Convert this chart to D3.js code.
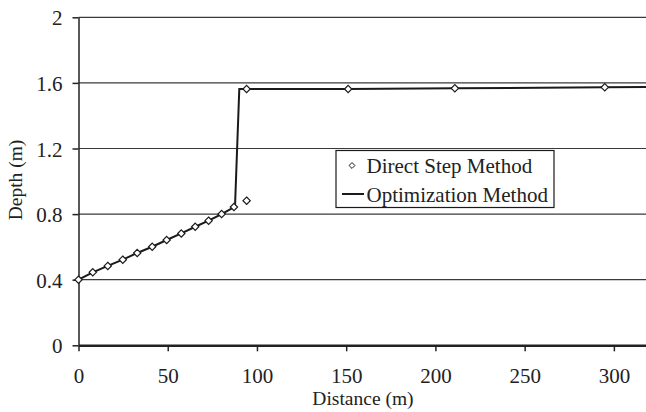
<!DOCTYPE html>
<html>
<head>
<meta charset="utf-8">
<script src="https://cdn.jsdelivr.net/npm/d3@7"></script>
<style>
  body { margin: 0; background: #fff; }
  svg text { font-family: "Liberation Serif", "Times New Roman", serif; fill: #222; }
</style>
</head>
<body>
<div id="chart"></div>
<script>
// direct step method (markers)
var stepX = [0, 8, 16.4, 24.8, 32.9, 41.3, 49.4, 57.6, 65.4, 72.9, 80.2, 87.1, 94.2, 94.2, 151.1, 210.9, 294.9];
var stepY = [0.40, 0.445, 0.484, 0.522, 0.563, 0.601, 0.642, 0.682, 0.723, 0.760, 0.800, 0.843, 0.882, 1.563, 1.563, 1.567, 1.573];

// optimization method (line)
var optX = [0, 8, 16.4, 24.8, 32.9, 41.3, 49.4, 57.6, 65.4, 72.9, 80.2, 87.7, 90.1, 151.1, 210.9, 294.9, 318];
var optY = [0.40, 0.445, 0.484, 0.522, 0.563, 0.601, 0.642, 0.682, 0.723, 0.760, 0.800, 0.845, 1.563, 1.563, 1.567, 1.573, 1.575];

var xTicks = [0, 50, 100, 150, 200, 250, 300];
var yTicks = [0, 0.4, 0.8, 1.2, 1.6, 2];
var legendLabels = ["Direct Step Method", "Optimization Method"];

var width = 646,
    height = 412;

var svg = d3.select("#chart")
    .append("svg")
    .attr("width", width)
    .attr("height", height);

var x = d3.scaleLinear().domain([0, 318]).range([78.5, 646]);
var y = d3.scaleLinear().domain([0, 2]).range([345.3, 17.3]);

// gridlines
svg.append("g")
    .selectAll("line")
    .data(yTicks.filter(function(d) { return d > 0; }))
    .enter().append("line")
    .attr("x1", x(0))
    .attr("x2", width)
    .attr("y1", function(d) { return y(d); })
    .attr("y2", function(d) { return y(d); })
    .attr("stroke", "#3a3a3a")
    .attr("stroke-width", 1.2);

// axes
var xAxis = svg.append("g")
    .attr("transform", "translate(0," + y(0) + ")")
    .call(d3.axisBottom(x).tickValues(xTicks).tickSize(6).tickSizeOuter(0).tickPadding(17));
xAxis.select(".domain").attr("stroke", "#222").attr("stroke-width", 2.5);
xAxis.selectAll(".tick line").attr("stroke", "#222").attr("stroke-width", 1.5);
xAxis.selectAll("text").attr("font-size", 21).attr("fill", "#222")
    .style("font-family", "Liberation Serif");

var yAxis = svg.append("g")
    .attr("transform", "translate(" + x(0) + ",0)")
    .call(d3.axisLeft(y).tickValues(yTicks).tickFormat(d3.format("")).tickSize(6).tickSizeOuter(0).tickPadding(10));
yAxis.select(".domain").attr("stroke", "#222").attr("stroke-width", 1.5);
yAxis.selectAll(".tick line").attr("stroke", "#222").attr("stroke-width", 1.5);
yAxis.selectAll("text").attr("font-size", 21).attr("fill", "#222").attr("dy", "0.36em")
    .style("font-family", "Liberation Serif");

// axis titles
svg.append("text")
    .attr("x", 363)
    .attr("y", 405)
    .attr("text-anchor", "middle")
    .attr("font-size", 19.5)
    .text("Distance (m)");

svg.append("text")
    .attr("transform", "translate(22,180) rotate(-90)")
    .attr("text-anchor", "middle")
    .attr("font-size", 19.5)
    .text("Depth (m)");

// optimization line
var optData = optX.map(function(d, i) { return [d, optY[i]]; });
var line = d3.line()
    .x(function(d) { return x(d[0]); })
    .y(function(d) { return y(d[1]); });

svg.append("path")
    .datum(optData)
    .attr("fill", "none")
    .attr("stroke", "#1a1a1a")
    .attr("stroke-width", 2)
    .attr("d", line);

// direct step markers
var stepData = stepX.map(function(d, i) { return [d, stepY[i]]; });
var diamond = d3.symbol().type(d3.symbolDiamond2).size(34);

svg.append("g")
    .selectAll("path")
    .data(stepData)
    .enter().append("path")
    .attr("transform", function(d) { return "translate(" + x(d[0]) + "," + y(d[1]) + ")"; })
    .attr("d", diamond)
    .attr("fill", "#fff")
    .attr("stroke", "#1a1a1a")
    .attr("stroke-width", 1.2);

// legend
var legend = svg.append("g");
legend.append("rect")
    .attr("x", 336)
    .attr("y", 150.5)
    .attr("width", 218)
    .attr("height", 57)
    .attr("fill", "#fff")
    .attr("stroke", "#1a1a1a")
    .attr("stroke-width", 1.2);

legend.append("path")
    .attr("transform", "translate(352,165.5)")
    .attr("d", d3.symbol().type(d3.symbolDiamond2).size(22))
    .attr("fill", "#fff")
    .attr("stroke", "#1a1a1a")
    .attr("stroke-width", 1);

legend.append("line")
    .attr("x1", 342).attr("x2", 364)
    .attr("y1", 194).attr("y2", 194)
    .attr("stroke", "#1a1a1a")
    .attr("stroke-width", 2);

legend.selectAll("text.lab")
    .data(legendLabels)
    .enter().append("text")
    .attr("class", "lab")
    .attr("x", 366.5)
    .attr("y", function(d, i) { return 173 + i * 28.5; })
    .attr("font-size", 21)
    .text(function(d) { return d; });
</script>
</body>
</html>
